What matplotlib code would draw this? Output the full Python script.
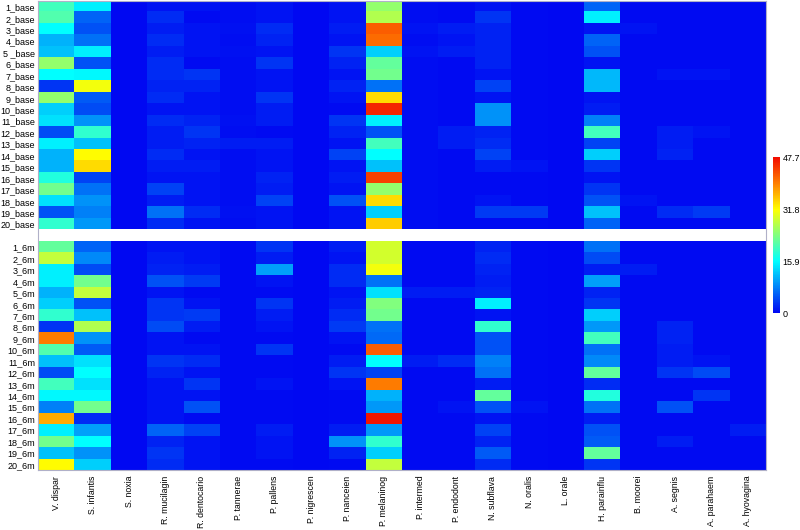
import numpy as np
import matplotlib
matplotlib.use("Agg")
import matplotlib.pyplot as plt
from matplotlib.colors import LinearSegmentedColormap

plt.rcParams['font.family'] = ['Liberation Sans', 'DejaVu Sans']

species = ["V. dispar", "S. infantis", "S. noxia", "R. mucilagin", "R. dentocario",
           "P. tannerae", "P. pallens", "P. nigrescen", "P. nanceien", "P. melaninog",
           "P. intermed", "P. endodont", "N. subflava", "N. oralis", "L. orale",
           "H. parainflu", "B. moorei", "A. segnis", "A. parahaem", "A. hyovagina"]

base_labels = ["1_base", "2_base", "3_base", "4_base", "5 _base", "6_base", "7_base",
               "8_base", "9_base", "10_base", "11_base", "12_base", "13_base", "14_base",
               "15_base", "16_base", "17_base", "18_base", "19_base", "20_base"]
m6_labels = [f"{i}_6m" for i in range(1, 21)]

# values per species, rows 1..20 (base)
base = {
    "V. dispar":     [20, 21, 16, 11, 12, 25, 16, 3, 25, 13, 14, 4.5, 15, 11, 11, 18, 23, 14, 5, 19],
    "S. infantis":   [15, 6, 5, 7, 15, 5, 15.5, 31, 5.5, 4.5, 9, 19, 12, 32, 34, 4, 7, 9, 8, 9.5],
    "S. noxia":      [0.3]*20,
    "R. mucilagin":  [1, 2.5, 1.5, 2.5, 1.5, 2.5, 2.5, 2, 2.5, 1, 2.5, 1.5, 1.5, 2.5, 1.5, 1, 4, 1.5, 7, 2.5],
    "R. dentocario": [1, 0.5, 1, 1, 1, 0.5, 3, 2, 1, 1, 2, 3, 2, 1, 1.5, 1, 1, 1, 2.5, 1],
    "P. tannerae":   [0.6, 0.6, 0.8, 0.6, 0.8, 0.6, 0.6, 0.6, 0.6, 0.6, 0.8, 0.6, 1.5, 0.6, 0.6, 0.6, 0.6, 0.6, 0.8, 0.6],
    "P. pallens":    [1, 1, 2.5, 2, 1, 3, 1, 1, 3, 1.5, 1.5, 0.5, 1.5, 1, 1, 2, 1.5, 4, 1, 1],
    "P. nigrescen":  [0.3]*20,
    "P. nanceien":   [1, 1, 1.5, 1, 3, 2, 1, 2, 1, 0.5, 3, 2, 1, 4, 1, 1.5, 1, 5, 1, 1],
    "P. melaninog":  [25, 27, 42, 41, 13, 22, 23, 7, 34, 46, 15, 5, 20, 16, 12, 44, 25, 34, 13, 35],
    "P. intermed":   [0.6, 0.6, 1, 0.6, 1, 0.6, 0.6, 0.6, 0.6, 0.6, 0.6, 0.6, 0.6, 0.6, 0.6, 0.6, 0.6, 0.6, 0.6, 0.6],
    "P. endodont":   [0.5, 0.5, 1.5, 1, 1.5, 0.5, 0.5, 0.5, 0.5, 0.5, 0.5, 1.5, 1.5, 0.5, 0.5, 0.5, 0.5, 0.5, 0.5, 0.5],
    "N. subflava":   [1, 3, 2, 2, 2, 2, 1, 4, 1, 9, 9, 2, 2.5, 4, 1.5, 0.5, 0.5, 1, 3.5, 0.5],
    "N. oralis":     [0.5, 0.5, 0.5, 0.5, 0.5, 0.5, 0.5, 0.5, 0.5, 0.5, 0.5, 0.5, 0.5, 0.5, 1, 0.5, 0.5, 0.5, 3.5, 0.5],
    "L. orale":      [0.3]*20,
    "H. parainflu":  [6, 15, 1, 6, 5, 1, 11.5, 11.5, 1, 1.5, 8, 20, 4, 13, 3, 1, 3, 5, 12, 6],
    "B. moorei":     [0.5, 0.5, 1, 0.5, 0.5, 0.5, 0.5, 0.5, 0.5, 0.5, 0.5, 0.5, 0.5, 0.5, 0.5, 0.5, 0.5, 1, 0.5, 0.5],
    "A. segnis":     [0.5, 0.5, 0.5, 0.5, 0.5, 0.5, 1, 0.5, 0.5, 0.5, 0.5, 1.5, 1.5, 2, 0.5, 0.5, 0.5, 0.5, 2.5, 0.5],
    "A. parahaem":   [0.5, 0.5, 0.5, 0.5, 0.5, 0.5, 1, 0.5, 0.5, 0.5, 0.5, 1, 0.5, 0.5, 0.5, 0.5, 0.5, 0.5, 3.5, 0.5],
    "A. hyovagina":  [0.5]*20,
}

m6 = {
    "V. dispar":     [22, 28, 15, 15, 11, 13, 19, 3, 40, 21, 12, 4.5, 20, 15.5, 8, 37, 15, 23, 12, 32],
    "S. infantis":   [6, 8.5, 4.5, 23, 28, 5, 12, 27, 9, 5.5, 14, 16, 14, 15.5, 23, 2.5, 10, 16, 9, 13],
    "S. noxia":      [0.3]*20,
    "R. mucilagin":  [1, 1.5, 2, 5, 1, 3, 3, 4.5, 1, 1, 3, 2, 1, 1, 1, 1, 6, 2, 3, 2.5],
    "R. dentocario": [1, 1, 1.5, 3.5, 0.5, 1, 3.5, 1.5, 0.5, 1, 2.5, 1, 3, 1, 5, 0.5, 4, 1, 1, 1],
    "P. tannerae":   [0.5]*20,
    "P. pallens":    [3, 1.5, 10, 1, 0.5, 3, 1.5, 1, 0.5, 3, 0.5, 0.5, 1, 0.5, 0.5, 0.5, 1.5, 1, 1, 0.5],
    "P. nigrescen":  [0.3]*20,
    "P. nanceien":   [1.5, 1, 2.5, 2.5, 1, 1.5, 2.5, 3.5, 1, 0.5, 1.5, 3, 1, 0.5, 0.5, 0.5, 1.5, 9, 2, 0.5],
    "P. melaninog":  [29, 29, 31, 7, 14, 24, 23, 7, 6.5, 42, 16, 4, 40, 11, 9.5, 47, 9.5, 19, 13, 28],
    "P. intermed":   [0.5, 0.5, 0.5, 0.5, 1.5, 0.5, 0.5, 0.5, 0.5, 0.5, 1.5, 0.5, 0.5, 0.5, 0.5, 0.5, 0.5, 0.5, 0.5, 0.5],
    "P. endodont":   [0.5, 0.5, 0.5, 0.5, 1.5, 0.5, 0.5, 0.5, 0.5, 0.5, 2.5, 0.5, 0.5, 0.5, 1, 0.5, 0.5, 0.5, 0.5, 0.5],
    "N. subflava":   [2, 2.5, 2, 1.5, 2, 15, 1, 19, 5, 5, 8, 7, 1.5, 22, 5, 1, 4, 2, 5.5, 2.5],
    "N. oralis":     [0.5]*14 + [1] + [0.5]*5,
    "L. orale":      [0.3]*20,
    "H. parainflu":  [7, 4.5, 1.5, 10, 2, 3, 13, 9.5, 20, 7, 8.5, 22, 2.5, 18, 7, 1.5, 5, 5.5, 22, 3],
    "B. moorei":     [0.5, 0.5, 1.5, 0.5, 0.5, 0.5, 0.5, 0.5, 0.5, 0.5, 0.5, 0.5, 0.5, 0.5, 0.5, 0.5, 0.5, 0.5, 0.5, 0.5],
    "A. segnis":     [0.5, 0.5, 0.5, 0.5, 0.5, 0.5, 0.5, 2, 2, 1.5, 1.5, 3, 0.5, 0.5, 5, 0.5, 0.5, 1.5, 0.5, 0.5],
    "A. parahaem":   [0.5, 0.5, 0.5, 0.5, 0.5, 0.5, 0.5, 0.5, 0.5, 0.5, 1, 4.5, 0.5, 3, 0.5, 0.5, 0.5, 0.5, 0.5, 0.5],
    "A. hyovagina":  [0.5]*16 + [1.5] + [0.5]*3,
}

vmax = 47.7

base_mat = np.array([base[s] for s in species]).T
m6_mat = np.array([m6[s] for s in species]).T
gap = np.full((1, len(species)), np.nan)
data = np.ma.masked_invalid(np.vstack([base_mat, gap, m6_mat]))

cmap = LinearSegmentedColormap.from_list(
    "jetlike",
    [(0.0, (0.0, 0.02, 0.95)), (1/3, (0.0, 1.0, 1.0)), (0.5, (0.5, 1.0, 0.5)),
     (2/3, (1.0, 1.0, 0.0)), (5/6, (1.0, 0.5, 0.0)), (1.0, (0.95, 0.05, 0.0))])
cmap.set_bad("white")

fig = plt.figure(figsize=(8, 5.3), dpi=100)
ax = fig.add_axes([0.0475, 0.113, 0.91, 0.885])
im = ax.imshow(data, aspect="auto", cmap=cmap, vmin=0, vmax=vmax, interpolation="nearest")

yticks = list(range(20)) + list(range(21, 41))
ax.set_yticks(yticks)
ax.set_yticklabels(base_labels + m6_labels, fontsize=6.5)
ax.set_xticks(range(len(species)))
ax.set_xticklabels(species, rotation=90, fontsize=6.3)
ax.tick_params(length=0, pad=2)
ax.tick_params(axis="x", pad=4)
for sp in ax.spines.values():
    sp.set_color("#b0b0c8")
    sp.set_linewidth(0.8)

cax = fig.add_axes([0.966, 0.409, 0.009, 0.294])
cb = fig.colorbar(im, cax=cax, ticks=[0, 15.9, 31.8, 47.7])
cb.ax.set_yticklabels(["0", "15.9", "31.8", "47.7"], fontsize=6.5)
cb.ax.tick_params(length=0, pad=2)
cb.outline.set_visible(False)

fig.savefig("out.png", dpi=100)
